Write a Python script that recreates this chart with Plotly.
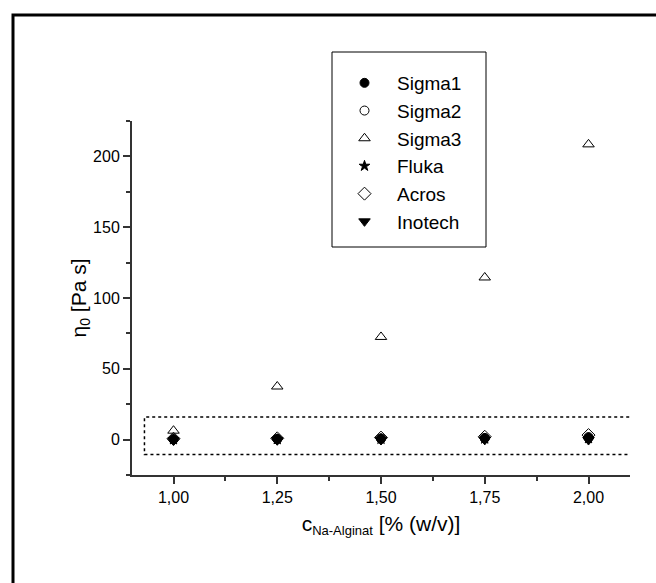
import plotly.graph_objects as go

conc = [1.00, 1.25, 1.50, 1.75, 2.00]
sigma1 = [0.2, 0.4, 0.6, 0.9, 1.3]
sigma2 = [0.3, 0.5, 0.8, 1.2, 1.8]
sigma3 = [6.3, 37.5, 72.5, 114.5, 208.5]
fluka = [0.1, 0.2, 0.4, 0.6, 0.9]
acros = [0.6, 0.9, 1.4, 2.0, 3.2]
inotech = [-0.6, -0.5, -0.3, -0.2, -0.3]

x_ticks = [1.00, 1.25, 1.50, 1.75, 2.00]
x_ticklabels = ["1,00", "1,25", "1,50", "1,75", "2,00"]
y_ticks = [0, 50, 100, 150, 200]

FONT = "Liberation Sans, Arial, sans-serif"

series = [
    ("Sigma1", sigma1, "circle", 9),
    ("Sigma2", sigma2, "circle-open", 9),
    ("Sigma3", sigma3, "triangle-up-open", 10),
    ("Fluka", fluka, "star", 8),
    ("Acros", acros, "diamond-open", 10),
    ("Inotech", inotech, "triangle-down", 10),
]

fig = go.Figure()
for i, (name, vals, sym, sz) in enumerate(series):
    fig.add_trace(go.Scatter(
        x=conc, y=vals, mode="markers", name=name, legendgroup=name,
        marker=dict(symbol=sym, size=sz, color="black",
                    line=dict(color="black", width=1)),
    ))

# plot area in pixels: x 132..630, y 121..475 (fig 656x583)
W, H = 656, 583
fig.update_layout(
    width=W, height=H,
    margin=dict(l=0, r=0, t=0, b=0),
    paper_bgcolor="white", plot_bgcolor="white",
    font=dict(family=FONT, size=16, color="black"),
    showlegend=True,
    legend=dict(
        x=(332) / W, y=1 - 64 / H, xanchor="left", yanchor="top",
        borderwidth=0, bgcolor="rgba(0,0,0,0)",
        font=dict(family=FONT, size=19, color="black"),
        tracegroupgap=0, itemwidth=55,
    ),
    xaxis=dict(
        domain=[132 / W, 630 / W], range=[0.9, 2.1],
        tickvals=x_ticks, ticktext=x_ticklabels,
        ticks="outside", ticklen=7, tickwidth=1.5, tickcolor="#333",
        showline=True, linecolor="#333", linewidth=2,
        showgrid=False, zeroline=False,
        minor=dict(dtick=0.125, tick0=1.0, ticks="outside", ticklen=4,
                   tickwidth=1.5, tickcolor="#333", showgrid=False),
        tickfont=dict(size=16),
        title=dict(text="c<sub><span style='font-size:13px'>Na-Alginat</span></sub> [% (w/v)]",
                   font=dict(size=21), standoff=11),
    ),
    yaxis=dict(
        domain=[(H - 475) / H, (H - 121) / H], range=[-25, 225],
        tickvals=y_ticks,
        ticks="outside", ticklen=7, tickwidth=1.5, tickcolor="#333",
        showline=True, linecolor="#333", linewidth=2,
        showgrid=False, zeroline=False,
        minor=dict(dtick=25, tick0=0, ticks="outside", ticklen=4,
                   tickwidth=1.5, tickcolor="#333", showgrid=False),
        tickfont=dict(size=16),
        title=dict(text="η<sub><span style='font-size:14px'>0</span></sub> [Pa s]",
                   font=dict(size=21), standoff=1),
    ),
    shapes=[
        dict(type="rect", xref="x", yref="y", x0=0.93, x1=2.105, y0=-10.5, y1=16,
             line=dict(color="black", width=1.5, dash="dot"), layer="below"),
        dict(type="rect", xref="paper", yref="paper",
             x0=332 / W, x1=486 / W, y0=1 - 247 / H, y1=1 - 52 / H,
             line=dict(color="black", width=1), fillcolor="white", layer="above"),
        dict(type="rect", xref="paper", yref="paper",
             x0=13 / W, x1=1.05, y0=-0.05, y1=1 - 15 / H,
             line=dict(color="black", width=3)),
    ],
)

fig.write_html("out.html")
